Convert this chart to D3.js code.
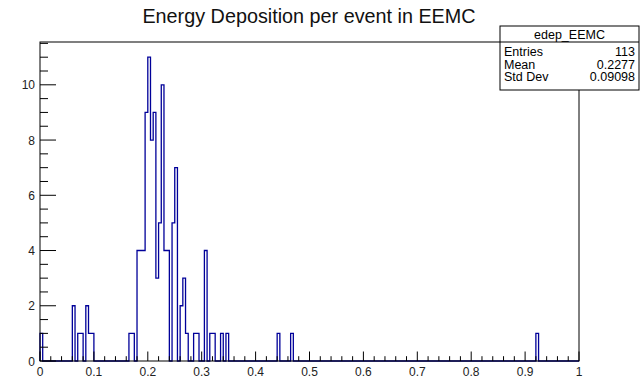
<!DOCTYPE html>
<html>
<head>
<meta charset="utf-8">
<script src="https://cdn.jsdelivr.net/npm/d3@7"></script>
<style>
  body { margin: 0; background: #fff; }
  svg { display: block; font-family: "Liberation Sans", Arial, sans-serif; }
</style>
</head>
<body>
<div id="chart"></div>
<script>
var W = 641, H = 380;
var frame = {left: 40, right: 579, top: 42, bottom: 361};

// histogram edep_EEMC: 200 bins on [0,1], only non-empty bins listed
var nBins = 200, xMin = 0, xMax = 1;
var binIndex = [0, 12, 14, 15, 17, 18, 19, 33, 34, 36, 37, 38, 39, 40, 41, 42, 43, 44, 45, 46, 47, 49, 50, 52, 53, 54, 57, 58, 61, 63, 64, 67, 69, 88, 93, 184];
var binCount = [1, 2, 1, 1, 2, 1, 1, 1, 1, 4, 4, 4, 9, 11, 8, 9, 3, 5, 10, 4, 4, 5, 7, 2, 3, 1, 1, 1, 4, 1, 1, 1, 1, 1, 1, 1];

var title = "Energy Deposition per event in EEMC";
var statName = "edep_EEMC";
var statLabels = ["Entries", "Mean", "Std Dev"];
var statValues = ["113", "0.2277", "0.09098"];

var yMax = 11.55;
var yTicks = [0, 2, 4, 6, 8, 10];
var xTicks = [0, 0.1, 0.2, 0.3, 0.4, 0.5, 0.6, 0.7, 0.8, 0.9, 1];

var x = d3.scaleLinear().domain([xMin, xMax]).range([frame.left, frame.right]);
var y = d3.scaleLinear().domain([0, yMax]).range([frame.bottom, frame.top]);

var svg = d3.select("#chart").append("svg")
    .attr("width", W)
    .attr("height", H);

// full bin contents
var counts = d3.range(nBins).map(function() { return 0; });
binIndex.forEach(function(b, i) { counts[b] = binCount[i]; });
var bw = (xMax - xMin) / nBins;

var pts = [[xMin, 0]];
counts.forEach(function(c, i) {
  pts.push([xMin + i * bw, c]);
  pts.push([xMin + (i + 1) * bw, c]);
});
pts.push([xMax, 0]);

var line = d3.line()
    .x(function(d) { return x(d[0]); })
    .y(function(d) { return y(d[1]); });

svg.append("path")
    .attr("d", line(pts))
    .attr("fill", "none")
    .attr("stroke", "#000099")
    .attr("stroke-width", 1.3);

// frame
svg.append("rect")
    .attr("x", frame.left)
    .attr("y", frame.top)
    .attr("width", frame.right - frame.left)
    .attr("height", frame.bottom - frame.top)
    .attr("fill", "none")
    .attr("stroke", "#000")
    .attr("stroke-width", 1);

// x axis ticks (ROOT style, inside frame)
var xMinor = d3.range(0, 51).map(function(i) { return i * 0.02; });
svg.append("g").selectAll("line")
    .data(xMinor)
  .enter().append("line")
    .attr("x1", function(d) { return x(d); })
    .attr("x2", function(d) { return x(d); })
    .attr("y1", frame.bottom)
    .attr("y2", function(d, i) { return frame.bottom - (i % 5 == 0 ? 9.5 : 4.8); })
    .attr("stroke", "#000");

svg.append("g").selectAll("text")
    .data(xTicks)
  .enter().append("text")
    .attr("x", function(d) { return x(d); })
    .attr("y", 376)
    .attr("text-anchor", "middle")
    .attr("font-size", 12)
    .attr("fill", "#222")
    .text(function(d) { return d3.format("")(+d.toFixed(1)); });

// y axis ticks
var yMinor = d3.range(0, 24).map(function(i) { return i * 0.5; });
svg.append("g").selectAll("line")
    .data(yMinor)
  .enter().append("line")
    .attr("y1", function(d) { return y(d); })
    .attr("y2", function(d) { return y(d); })
    .attr("x1", frame.left)
    .attr("x2", function(d, i) { return frame.left + (i % 4 == 0 ? 16 : 8); })
    .attr("stroke", "#000");

svg.append("g").selectAll("text")
    .data(yTicks)
  .enter().append("text")
    .attr("x", 35)
    .attr("y", function(d) { return y(d) + 4.5; })
    .attr("text-anchor", "end")
    .attr("font-size", 12)
    .attr("fill", "#222")
    .text(function(d) { return d; });

// title
svg.append("text")
    .attr("x", 309)
    .attr("y", 23)
    .attr("text-anchor", "middle")
    .attr("font-size", 19.8)
    .attr("fill", "#111")
    .text(title);

// stats box
var box = {x: 500, y: 26, w: 139, h: 64, head: 16};
var sb = svg.append("g");
sb.append("rect")
    .attr("x", box.x).attr("y", box.y)
    .attr("width", box.w).attr("height", box.h)
    .attr("fill", "#fff").attr("stroke", "#000");
sb.append("line")
    .attr("x1", box.x).attr("x2", box.x + box.w)
    .attr("y1", box.y + box.head).attr("y2", box.y + box.head)
    .attr("stroke", "#000");
sb.append("text")
    .attr("x", box.x + box.w / 2)
    .attr("y", box.y + 12.5)
    .attr("text-anchor", "middle")
    .attr("font-size", 12.5)
    .text(statName);
statLabels.forEach(function(l, i) {
  sb.append("text")
      .attr("x", box.x + 4)
      .attr("y", box.y + box.head + 14 + i * 12.5)
      .attr("font-size", 12.5)
      .text(l);
  sb.append("text")
      .attr("x", box.x + box.w - 4)
      .attr("y", box.y + box.head + 14 + i * 12.5)
      .attr("text-anchor", "end")
      .attr("font-size", 12.5)
      .text(statValues[i]);
});
</script>
</body>
</html>
